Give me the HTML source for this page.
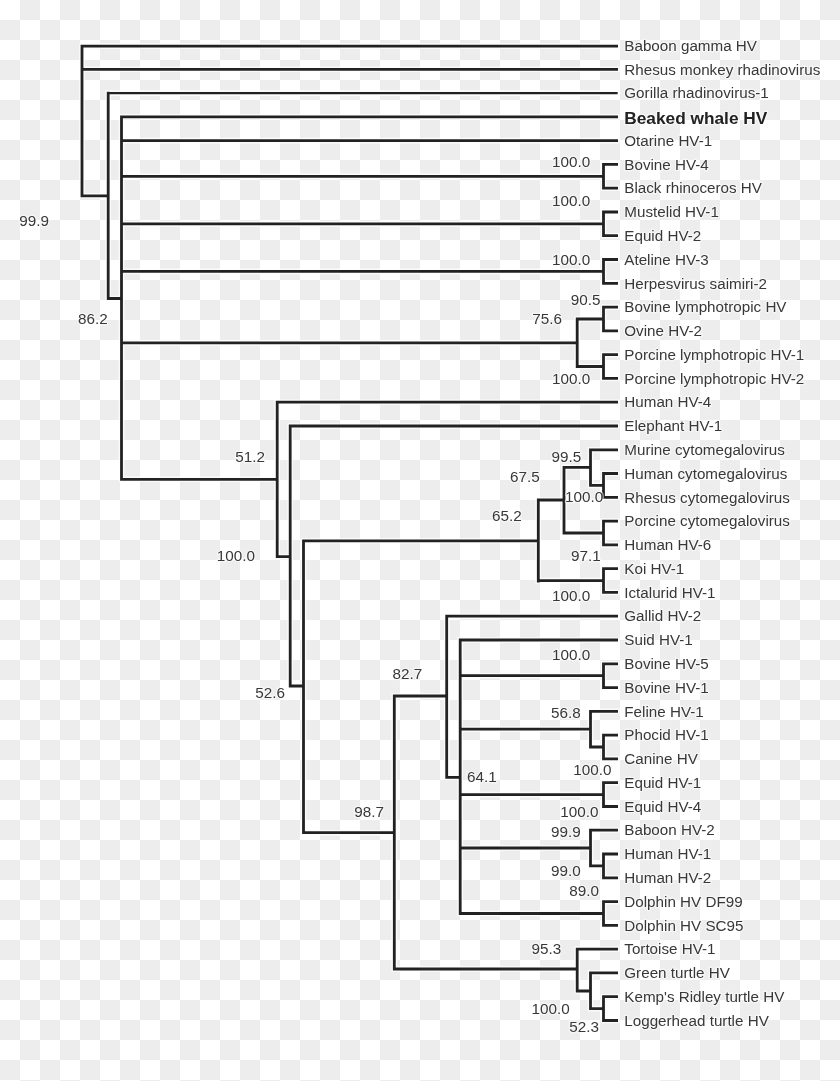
<!DOCTYPE html>
<html lang="en"><head><meta charset="utf-8"><title>Herpesvirus phylogenetic tree</title>
<style>
html,body{margin:0;padding:0}
body{width:840px;height:1081px;overflow:hidden;background-color:#fff;
background-image:repeating-conic-gradient(#ededed 0% 25%,#fff 0% 50%);background-size:40px 40px;background-position:0 0}
svg{display:block;position:absolute;left:0;top:0}
text{font-family:"Liberation Sans",Arial,Helvetica,sans-serif;fill:#383838;stroke:#fff;stroke-opacity:.5;stroke-width:2.6px;paint-order:stroke fill;stroke-linejoin:round}
.n{font-size:15.2px}
.b{font-size:16.8px;font-weight:bold;fill:#222}
.v{font-size:15.2px}
.h{stroke:#fff;stroke-opacity:.75;stroke-width:5.6;fill:none;stroke-linecap:square}
.l{stroke:#222;stroke-width:2.8;fill:none;stroke-linecap:square}
</style></head><body>
<svg width="840" height="1081" viewBox="0 0 840 1081">
<defs><filter id="s" x="-5%" y="-5%" width="110%" height="110%"><feGaussianBlur stdDeviation="0.45"/></filter><filter id="t" x="-5%" y="-5%" width="110%" height="110%"><feGaussianBlur stdDeviation="0.55"/></filter></defs>
<g filter="url(#s)">
<path class="h" d="M82.0 46.1L82.0 195.8 M82.0 46.1L616.6 46.1 M82.0 69.3L616.6 69.3 M82.0 195.8L108.2 195.8 M108.2 93.1L108.2 298.5 M108.2 298.5L121.5 298.5 M121.5 116.8L121.5 479.3 M121.5 116.8L616.6 116.8 M121.5 140.6L616.6 140.6 M603.5 164.4L603.5 188.2 M603.5 164.4L616.6 164.4 M603.5 188.2L616.6 188.2 M121.5 176.3L603.5 176.3 M603.5 212.0L603.5 235.7 M603.5 212.0L616.6 212.0 M603.5 235.7L616.6 235.7 M121.5 223.9L603.5 223.9 M603.5 259.5L603.5 283.3 M603.5 259.5L616.6 259.5 M603.5 283.3L616.6 283.3 M121.5 271.4L603.5 271.4 M603.5 307.1L603.5 330.9 M603.5 307.1L616.6 307.1 M603.5 330.9L616.6 330.9 M603.5 354.6L603.5 378.4 M603.5 354.6L616.6 354.6 M603.5 378.4L616.6 378.4 M577.2 319.0L577.2 366.5 M577.2 319.0L603.5 319.0 M577.2 366.5L603.5 366.5 M121.5 342.8L577.2 342.8 M121.5 479.3L277.2 479.3 M277.2 402.2L277.2 556.6 M277.2 402.2L616.6 402.2 M277.2 556.6L290.2 556.6 M290.2 426.0L290.2 686.0 M290.2 426.0L616.6 426.0 M290.2 686.0L303.5 686.0 M303.5 540.8L303.5 832.7 M303.5 540.8L538.3 540.8 M303.5 832.7L394.3 832.7 M538.3 500.0L538.3 581.0 M603.5 568.7L603.5 592.4 M603.5 568.7L616.6 568.7 M603.5 592.4L616.6 592.4 M538.3 580.6L603.5 580.6 M538.3 500.0L564.0 500.0 M564.0 467.3L564.0 533.0 M603.5 521.1L603.5 544.9 M603.5 521.1L616.6 521.1 M603.5 544.9L616.6 544.9 M564.0 533.0L603.5 533.0 M564.0 467.3L590.5 467.3 M590.5 449.8L590.5 485.4 M590.5 449.8L616.6 449.8 M603.5 473.5L603.5 497.3 M603.5 473.5L616.6 473.5 M603.5 497.3L616.6 497.3 M590.5 485.4L603.5 485.4 M394.3 696.0L394.3 969.0 M394.3 696.0L446.7 696.0 M394.3 969.0L577.2 969.0 M446.7 616.2L446.7 777.3 M446.7 616.2L616.6 616.2 M446.7 777.3L460.2 777.3 M460.2 640.0L460.2 913.5 M460.2 640.0L616.6 640.0 M603.5 663.8L603.5 687.6 M603.5 663.8L616.6 663.8 M603.5 687.6L616.6 687.6 M460.2 675.7L603.5 675.7 M603.5 735.1L603.5 758.9 M603.5 735.1L616.6 735.1 M603.5 758.9L616.6 758.9 M590.5 747.0L603.5 747.0 M590.5 711.3L590.5 747.0 M590.5 711.3L616.6 711.3 M460.2 729.2L590.5 729.2 M603.5 782.7L603.5 806.5 M603.5 782.7L616.6 782.7 M603.5 806.5L616.6 806.5 M460.2 794.6L603.5 794.6 M603.5 854.0L603.5 877.8 M603.5 854.0L616.6 854.0 M603.5 877.8L616.6 877.8 M590.5 865.9L603.5 865.9 M590.5 830.2L590.5 865.9 M590.5 830.2L616.6 830.2 M460.2 848.0L590.5 848.0 M603.5 901.6L603.5 925.4 M603.5 901.6L616.6 901.6 M603.5 925.4L616.6 925.4 M460.2 913.5L603.5 913.5 M603.5 996.7L603.5 1020.5 M603.5 996.7L616.6 996.7 M603.5 1020.5L616.6 1020.5 M590.5 1008.6L603.5 1008.6 M590.5 972.9L590.5 1008.6 M590.5 972.9L616.6 972.9 M577.2 991.0L590.5 991.0 M577.2 949.1L577.2 991.0 M577.2 949.1L616.6 949.1 M108.2 93.1L616.6 93.1"/>
<path class="l" d="M82.0 46.1L82.0 195.8 M82.0 46.1L616.6 46.1 M82.0 69.3L616.6 69.3 M82.0 195.8L108.2 195.8 M108.2 93.1L108.2 298.5 M108.2 298.5L121.5 298.5 M121.5 116.8L121.5 479.3 M121.5 116.8L616.6 116.8 M121.5 140.6L616.6 140.6 M603.5 164.4L603.5 188.2 M603.5 164.4L616.6 164.4 M603.5 188.2L616.6 188.2 M121.5 176.3L603.5 176.3 M603.5 212.0L603.5 235.7 M603.5 212.0L616.6 212.0 M603.5 235.7L616.6 235.7 M121.5 223.9L603.5 223.9 M603.5 259.5L603.5 283.3 M603.5 259.5L616.6 259.5 M603.5 283.3L616.6 283.3 M121.5 271.4L603.5 271.4 M603.5 307.1L603.5 330.9 M603.5 307.1L616.6 307.1 M603.5 330.9L616.6 330.9 M603.5 354.6L603.5 378.4 M603.5 354.6L616.6 354.6 M603.5 378.4L616.6 378.4 M577.2 319.0L577.2 366.5 M577.2 319.0L603.5 319.0 M577.2 366.5L603.5 366.5 M121.5 342.8L577.2 342.8 M121.5 479.3L277.2 479.3 M277.2 402.2L277.2 556.6 M277.2 402.2L616.6 402.2 M277.2 556.6L290.2 556.6 M290.2 426.0L290.2 686.0 M290.2 426.0L616.6 426.0 M290.2 686.0L303.5 686.0 M303.5 540.8L303.5 832.7 M303.5 540.8L538.3 540.8 M303.5 832.7L394.3 832.7 M538.3 500.0L538.3 581.0 M603.5 568.7L603.5 592.4 M603.5 568.7L616.6 568.7 M603.5 592.4L616.6 592.4 M538.3 580.6L603.5 580.6 M538.3 500.0L564.0 500.0 M564.0 467.3L564.0 533.0 M603.5 521.1L603.5 544.9 M603.5 521.1L616.6 521.1 M603.5 544.9L616.6 544.9 M564.0 533.0L603.5 533.0 M564.0 467.3L590.5 467.3 M590.5 449.8L590.5 485.4 M590.5 449.8L616.6 449.8 M603.5 473.5L603.5 497.3 M603.5 473.5L616.6 473.5 M603.5 497.3L616.6 497.3 M590.5 485.4L603.5 485.4 M394.3 696.0L394.3 969.0 M394.3 696.0L446.7 696.0 M394.3 969.0L577.2 969.0 M446.7 616.2L446.7 777.3 M446.7 616.2L616.6 616.2 M446.7 777.3L460.2 777.3 M460.2 640.0L460.2 913.5 M460.2 640.0L616.6 640.0 M603.5 663.8L603.5 687.6 M603.5 663.8L616.6 663.8 M603.5 687.6L616.6 687.6 M460.2 675.7L603.5 675.7 M603.5 735.1L603.5 758.9 M603.5 735.1L616.6 735.1 M603.5 758.9L616.6 758.9 M590.5 747.0L603.5 747.0 M590.5 711.3L590.5 747.0 M590.5 711.3L616.6 711.3 M460.2 729.2L590.5 729.2 M603.5 782.7L603.5 806.5 M603.5 782.7L616.6 782.7 M603.5 806.5L616.6 806.5 M460.2 794.6L603.5 794.6 M603.5 854.0L603.5 877.8 M603.5 854.0L616.6 854.0 M603.5 877.8L616.6 877.8 M590.5 865.9L603.5 865.9 M590.5 830.2L590.5 865.9 M590.5 830.2L616.6 830.2 M460.2 848.0L590.5 848.0 M603.5 901.6L603.5 925.4 M603.5 901.6L616.6 901.6 M603.5 925.4L616.6 925.4 M460.2 913.5L603.5 913.5 M603.5 996.7L603.5 1020.5 M603.5 996.7L616.6 996.7 M603.5 1020.5L616.6 1020.5 M590.5 1008.6L603.5 1008.6 M590.5 972.9L590.5 1008.6 M590.5 972.9L616.6 972.9 M577.2 991.0L590.5 991.0 M577.2 949.1L577.2 991.0 M577.2 949.1L616.6 949.1"/>
<path class="l" style="stroke-width:2.1" d="M108.2 93.1L616.6 93.1"/>
</g><g filter="url(#t)">
<g>
<text class="n" x="624.3" y="51.3" textLength="132.7" lengthAdjust="spacingAndGlyphs">Baboon gamma HV</text>
<text class="n" x="624.3" y="74.5" textLength="196.0" lengthAdjust="spacingAndGlyphs">Rhesus monkey rhadinovirus</text>
<text class="n" x="624.3" y="98.3" textLength="144.5" lengthAdjust="spacingAndGlyphs">Gorilla rhadinovirus-1</text>
<text class="b" x="624.3" y="123.8" textLength="143.0" lengthAdjust="spacingAndGlyphs">Beaked whale HV</text>
<text class="n" x="624.3" y="145.8" textLength="87.9" lengthAdjust="spacingAndGlyphs">Otarine HV-1</text>
<text class="n" x="624.3" y="169.6" textLength="84.5" lengthAdjust="spacingAndGlyphs">Bovine HV-4</text>
<text class="n" x="624.3" y="193.4" textLength="137.7" lengthAdjust="spacingAndGlyphs">Black rhinoceros HV</text>
<text class="n" x="624.3" y="217.2" textLength="94.6" lengthAdjust="spacingAndGlyphs">Mustelid HV-1</text>
<text class="n" x="624.3" y="240.9" textLength="76.9" lengthAdjust="spacingAndGlyphs">Equid HV-2</text>
<text class="n" x="624.3" y="264.7" textLength="84.5" lengthAdjust="spacingAndGlyphs">Ateline HV-3</text>
<text class="n" x="624.3" y="288.5" textLength="142.7" lengthAdjust="spacingAndGlyphs">Herpesvirus saimiri-2</text>
<text class="n" x="624.3" y="312.3" textLength="162.2" lengthAdjust="spacingAndGlyphs">Bovine lymphotropic HV</text>
<text class="n" x="624.3" y="336.1" textLength="77.7" lengthAdjust="spacingAndGlyphs">Ovine HV-2</text>
<text class="n" x="624.3" y="359.8" textLength="180.0" lengthAdjust="spacingAndGlyphs">Porcine lymphotropic HV-1</text>
<text class="n" x="624.3" y="383.6" textLength="180.0" lengthAdjust="spacingAndGlyphs">Porcine lymphotropic HV-2</text>
<text class="n" x="624.3" y="407.4" textLength="87.0" lengthAdjust="spacingAndGlyphs">Human HV-4</text>
<text class="n" x="624.3" y="431.2" textLength="98.0" lengthAdjust="spacingAndGlyphs">Elephant HV-1</text>
<text class="n" x="624.3" y="455.0" textLength="160.5" lengthAdjust="spacingAndGlyphs">Murine cytomegalovirus</text>
<text class="n" x="624.3" y="478.7" textLength="163.0" lengthAdjust="spacingAndGlyphs">Human cytomegalovirus</text>
<text class="n" x="624.3" y="502.5" textLength="165.6" lengthAdjust="spacingAndGlyphs">Rhesus cytomegalovirus</text>
<text class="n" x="624.3" y="526.3" textLength="165.6" lengthAdjust="spacingAndGlyphs">Porcine cytomegalovirus</text>
<text class="n" x="624.3" y="550.1" textLength="87.0" lengthAdjust="spacingAndGlyphs">Human HV-6</text>
<text class="n" x="624.3" y="573.9" textLength="60.0" lengthAdjust="spacingAndGlyphs">Koi HV-1</text>
<text class="n" x="624.3" y="597.6" textLength="91.2" lengthAdjust="spacingAndGlyphs">Ictalurid HV-1</text>
<text class="n" x="624.3" y="621.4" textLength="76.9" lengthAdjust="spacingAndGlyphs">Gallid HV-2</text>
<text class="n" x="624.3" y="645.2" textLength="68.4" lengthAdjust="spacingAndGlyphs">Suid HV-1</text>
<text class="n" x="624.3" y="669.0" textLength="84.5" lengthAdjust="spacingAndGlyphs">Bovine HV-5</text>
<text class="n" x="624.3" y="692.8" textLength="84.5" lengthAdjust="spacingAndGlyphs">Bovine HV-1</text>
<text class="n" x="624.3" y="716.5" textLength="79.4" lengthAdjust="spacingAndGlyphs">Feline HV-1</text>
<text class="n" x="624.3" y="740.3" textLength="84.5" lengthAdjust="spacingAndGlyphs">Phocid HV-1</text>
<text class="n" x="624.3" y="764.1" textLength="73.5" lengthAdjust="spacingAndGlyphs">Canine HV</text>
<text class="n" x="624.3" y="787.9" textLength="76.9" lengthAdjust="spacingAndGlyphs">Equid HV-1</text>
<text class="n" x="624.3" y="811.7" textLength="76.9" lengthAdjust="spacingAndGlyphs">Equid HV-4</text>
<text class="n" x="624.3" y="835.4" textLength="90.4" lengthAdjust="spacingAndGlyphs">Baboon HV-2</text>
<text class="n" x="624.3" y="859.2" textLength="87.0" lengthAdjust="spacingAndGlyphs">Human HV-1</text>
<text class="n" x="624.3" y="883.0" textLength="87.0" lengthAdjust="spacingAndGlyphs">Human HV-2</text>
<text class="n" x="624.3" y="906.8" textLength="118.3" lengthAdjust="spacingAndGlyphs">Dolphin HV DF99</text>
<text class="n" x="624.3" y="930.6" textLength="119.1" lengthAdjust="spacingAndGlyphs">Dolphin HV SC95</text>
<text class="n" x="624.3" y="954.3" textLength="91.2" lengthAdjust="spacingAndGlyphs">Tortoise HV-1</text>
<text class="n" x="624.3" y="978.1" textLength="105.6" lengthAdjust="spacingAndGlyphs">Green turtle HV</text>
<text class="n" x="624.3" y="1001.9" textLength="160.0" lengthAdjust="spacingAndGlyphs">Kemp&#39;s Ridley turtle HV</text>
<text class="n" x="624.3" y="1025.7" textLength="144.5" lengthAdjust="spacingAndGlyphs">Loggerhead turtle HV</text>
</g><g>
<text class="v" x="19.3" y="225.6" textLength="29.7" lengthAdjust="spacingAndGlyphs">99.9</text>
<text class="v" x="78.0" y="323.9" textLength="29.7" lengthAdjust="spacingAndGlyphs">86.2</text>
<text class="v" x="552.1" y="167.3" textLength="38.2" lengthAdjust="spacingAndGlyphs">100.0</text>
<text class="v" x="552.1" y="206.3" textLength="38.2" lengthAdjust="spacingAndGlyphs">100.0</text>
<text class="v" x="552.1" y="265.2" textLength="38.2" lengthAdjust="spacingAndGlyphs">100.0</text>
<text class="v" x="570.7" y="304.9" textLength="29.7" lengthAdjust="spacingAndGlyphs">90.5</text>
<text class="v" x="532.3" y="324.2" textLength="29.7" lengthAdjust="spacingAndGlyphs">75.6</text>
<text class="v" x="552.1" y="383.6" textLength="38.2" lengthAdjust="spacingAndGlyphs">100.0</text>
<text class="v" x="235.3" y="461.9" textLength="29.7" lengthAdjust="spacingAndGlyphs">51.2</text>
<text class="v" x="216.8" y="560.6" textLength="38.2" lengthAdjust="spacingAndGlyphs">100.0</text>
<text class="v" x="255.3" y="698.2" textLength="29.7" lengthAdjust="spacingAndGlyphs">52.6</text>
<text class="v" x="551.6" y="462.2" textLength="29.7" lengthAdjust="spacingAndGlyphs">99.5</text>
<text class="v" x="510.0" y="482.2" textLength="29.7" lengthAdjust="spacingAndGlyphs">67.5</text>
<text class="v" x="565.0" y="501.6" textLength="38.2" lengthAdjust="spacingAndGlyphs">100.0</text>
<text class="v" x="492.0" y="520.9" textLength="29.7" lengthAdjust="spacingAndGlyphs">65.2</text>
<text class="v" x="571.0" y="560.6" textLength="29.7" lengthAdjust="spacingAndGlyphs">97.1</text>
<text class="v" x="552.0" y="600.9" textLength="38.2" lengthAdjust="spacingAndGlyphs">100.0</text>
<text class="v" x="392.6" y="678.9" textLength="29.7" lengthAdjust="spacingAndGlyphs">82.7</text>
<text class="v" x="552.0" y="659.6" textLength="38.2" lengthAdjust="spacingAndGlyphs">100.0</text>
<text class="v" x="551.0" y="718.2" textLength="29.7" lengthAdjust="spacingAndGlyphs">56.8</text>
<text class="v" x="467.0" y="782.2" textLength="29.7" lengthAdjust="spacingAndGlyphs">64.1</text>
<text class="v" x="573.3" y="774.9" textLength="38.2" lengthAdjust="spacingAndGlyphs">100.0</text>
<text class="v" x="560.3" y="817.2" textLength="38.2" lengthAdjust="spacingAndGlyphs">100.0</text>
<text class="v" x="551.0" y="837.2" textLength="29.7" lengthAdjust="spacingAndGlyphs">99.9</text>
<text class="v" x="354.3" y="816.6" textLength="29.7" lengthAdjust="spacingAndGlyphs">98.7</text>
<text class="v" x="551.0" y="875.9" textLength="29.7" lengthAdjust="spacingAndGlyphs">99.0</text>
<text class="v" x="569.3" y="895.9" textLength="29.7" lengthAdjust="spacingAndGlyphs">89.0</text>
<text class="v" x="531.6" y="953.9" textLength="29.7" lengthAdjust="spacingAndGlyphs">95.3</text>
<text class="v" x="531.6" y="1013.9" textLength="38.2" lengthAdjust="spacingAndGlyphs">100.0</text>
<text class="v" x="569.3" y="1031.6" textLength="29.7" lengthAdjust="spacingAndGlyphs">52.3</text>
</g></g></svg></body></html>
